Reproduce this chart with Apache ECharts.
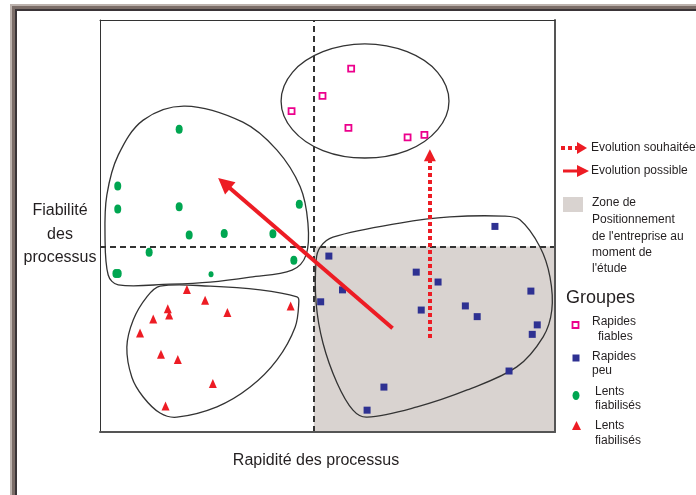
<!DOCTYPE html>
<html lang="fr">
  <head>
    <meta charset="UTF-8" />
    <script src="https://cdn.jsdelivr.net/npm/echarts@6/dist/echarts.min.js"></script>
    <style>
      body { margin: 0; background: #fff; }
    </style>
    <title>Groupes</title>
  </head>
  <body>
    <div id="main" style="width: 696px; height: 495px;"></div>

    <script>
      // axes 0..100, no ticks shown
      const seuilRapidite = 47;
      const seuilFiabilite = 45;

      const rapidesFiables = [
        [55.2, 88.2], [48.9, 81.6], [42.1, 77.9], [54.6, 73.8], [67.6, 71.5], [71.3, 72.1],
      ];
      const rapidesPeu = [
        [86.8, 49.9], [50.3, 42.7], [69.5, 38.8], [74.3, 36.4], [53.3, 34.5],
        [48.5, 31.6], [94.7, 34.2], [70.6, 29.6], [80.3, 30.6], [82.9, 28.0],
        [96.1, 26.0], [95.0, 23.7], [89.9, 14.8], [62.4, 10.9], [58.7, 5.3],
      ];
      const lentsVert = [
        [17.4, 73.5], [3.9, 59.7], [3.9, 54.1], [17.4, 54.7], [19.6, 47.8],
        [27.3, 48.2], [38.0, 48.1], [43.8, 55.3], [10.8, 43.6], [42.6, 41.7],
        [3.5, 38.5], [4.0, 38.5], [24.4, 38.3],
      ];
      const lentsRouge = [
        [19.1, 34.6], [23.1, 32.0], [14.9, 29.9], [15.2, 28.4], [11.7, 27.4],
        [28.0, 29.0], [41.9, 30.6], [8.8, 24.0], [13.4, 18.9], [17.1, 17.6],
        [24.8, 11.8], [14.4, 6.3],
      ];

      const evolutionPossible = [[64.3, 25.2], [27.3, 60.4]];
      const evolutionSouhaitee = [[72.5, 22.8], [72.5, 67.2]];

      // hand drawn group outlines
      const contourFiables = [
        [76.7, 80.3], [74.2, 73.4], [67.5, 68.3], [58.2, 66.5], [49.0, 68.3], [42.3, 73.4],
        [39.8, 80.3], [42.3, 87.3], [49.0, 92.3], [58.2, 94.2], [67.5, 92.3], [74.2, 87.3],
      ];
      const contourVert = [
        [18.7, 79.1], [31.4, 75.2], [38.9, 68.4], [44.0, 59.5], [45.7, 50.7], [45.3, 43.0],
        [42.2, 39.3], [33.0, 37.6], [24.2, 36.4], [15.4, 35.9], [4.0, 35.7], [1.8, 38.1],
        [1.1, 47.8], [1.5, 57.5], [4.0, 67.2], [9.5, 75.7],
      ];
      const contourRouge = [
        [13.2, 35.4], [24.2, 35.4], [35.2, 34.5], [43.3, 32.8], [43.7, 31.6], [42.9, 25.5],
        [38.9, 17.5], [33.0, 10.9], [25.7, 6.1], [16.9, 3.6], [13.2, 4.6], [9.5, 8.5],
        [7.0, 13.3], [5.9, 20.6], [7.3, 27.2], [10.3, 32.8],
      ];
      const contourPeu = [
        [48.4, 44.9], [51.2, 47.3], [65.9, 50.7], [76.9, 52.2], [88.6, 52.4], [92.3, 51.5],
        [96.7, 44.9], [98.9, 37.6], [99.3, 29.6], [97.4, 23.1], [91.6, 15.8], [80.7, 10.2],
        [69.7, 6.1], [58.7, 3.6], [55.6, 5.3], [52.1, 11.9], [49.0, 21.6], [47.5, 31.3],
        [47.5, 41.7],
      ];
      const contours = [contourFiables, contourVert, contourRouge, contourPeu];

      const font = "'Liberation Sans', Arial, sans-serif";
      const ink = "#231f20";
      const rouge = "#ed1c24";

      const myChart = echarts.init(document.getElementById("main"));

      const hiddenAxis = (pos, width, color) => ({
        type: "value",
        min: 0,
        max: 100,
        position: pos,
        z: 6,
        axisLine: { show: true, onZero: false, lineStyle: { color: color, width: width } },
        axisTick: { show: false },
        axisLabel: { show: false },
        splitLine: { show: false },
      });

      function txt(x, y, text, size, align) {
        return {
          type: "text",
          x: x,
          y: y,
          z: 10,
          style: {
            text: text,
            font: size + "px " + font,
            fill: ink,
            align: align || "left",
            verticalAlign: "middle",
          },
        };
      }

      const graphics = [
        // window frame
        { type: "rect", shape: { x: 10, y: 4, width: 686, height: 7 }, style: { fill: "#bcb2ad" } },
        { type: "rect", shape: { x: 12, y: 6, width: 684, height: 5 }, style: { fill: "#7b6d68" } },
        { type: "rect", shape: { x: 15, y: 9, width: 681, height: 2 }, style: { fill: "#3a3437" } },
        { type: "rect", shape: { x: 10, y: 4, width: 7, height: 491 }, style: { fill: "#bcb2ad" } },
        { type: "rect", shape: { x: 12, y: 6, width: 5, height: 489 }, style: { fill: "#7b6d68" } },
        { type: "rect", shape: { x: 15, y: 9, width: 2, height: 486 }, style: { fill: "#3a3437" } },

        // axis titles
        txt(60, 211, "Fiabilité", 16, "center"),
        txt(60, 235, "des", 16, "center"),
        txt(60, 258, "processus", 16, "center"),
        txt(316, 461, "Rapidité des processus", 16, "center"),

        // legend: arrows
        {
          type: "line",
          shape: { x1: 561, y1: 148, x2: 579, y2: 148 },
          style: { stroke: rouge, lineWidth: 4, lineDash: [4, 3] },
        },
        { type: "polygon", shape: { points: [[577, 142], [587, 148], [577, 154]] }, style: { fill: rouge } },
        txt(591, 148, "Evolution souhaitée", 12),
        {
          type: "line",
          shape: { x1: 563, y1: 171, x2: 579, y2: 171 },
          style: { stroke: rouge, lineWidth: 3 },
        },
        { type: "polygon", shape: { points: [[577, 165], [589, 171], [577, 177]] }, style: { fill: rouge } },
        txt(591, 171, "Evolution possible", 12),

        // legend: zone
        { type: "rect", shape: { x: 563, y: 197, width: 20, height: 15 }, style: { fill: "#d9d3d0" } },
        txt(592, 203, "Zone de", 12),
        txt(592, 220, "Positionnement", 12),
        txt(592, 237, "de l'entreprise au", 12),
        txt(592, 253, "moment de", 12),
        txt(592, 269, "l'étude", 12),

        // legend: groups
        txt(566, 298, "Groupes", 18),
        {
          type: "rect",
          shape: { x: 572.5, y: 322, width: 6, height: 6 },
          style: { fill: "#fff", stroke: "#ec008c", lineWidth: 1.8 },
        },
        txt(592, 322, "Rapides", 12),
        txt(598, 337, "fiables", 12),
        { type: "rect", shape: { x: 572.5, y: 354.5, width: 7, height: 7 }, style: { fill: "#2e3192" } },
        txt(592, 357, "Rapides", 12),
        txt(592, 371, "peu", 12),
        { type: "ellipse", shape: { cx: 576, cy: 395.5, rx: 3.5, ry: 4.5 }, style: { fill: "#00a651" } },
        txt(595, 392, "Lents", 12),
        txt(595, 406, "fiabilisés", 12),
        { type: "polygon", shape: { points: [[576.5, 421], [581, 430], [572, 430]] }, style: { fill: rouge } },
        txt(595, 426, "Lents", 12),
        txt(595, 441, "fiabilisés", 12),
      ];

      myChart.setOption({
        animation: false,
        backgroundColor: "#fff",
        grid: { left: 100, top: 20, width: 455, height: 412, show: false },
        xAxis: [hiddenAxis("bottom", 2, "#555"), hiddenAxis("top", 1, "#333")],
        yAxis: [hiddenAxis("left", 1, "#333"), hiddenAxis("right", 2, "#555")],
        graphic: graphics,
        series: [
          {
            name: "zone",
            type: "scatter",
            data: [],
            z: 1,
            silent: true,
            markArea: {
              silent: true,
              itemStyle: { color: "#d9d3d0" },
              data: [[{ xAxis: seuilRapidite, yAxis: 0 }, { xAxis: 100, yAxis: seuilFiabilite }]],
            },
          },
          {
            name: "contours",
            type: "custom",
            z: 2,
            silent: true,
            data: contours.map((c, i) => [i, 0]),
            renderItem: (params, api) => {
              const pts = contours[params.dataIndex].map((p) => api.coord(p));
              return {
                type: "polygon",
                shape: { points: pts, smooth: 0.35 },
                style: { fill: "none", stroke: "#333", lineWidth: 1.3 },
              };
            },
          },
          {
            name: "seuils",
            type: "scatter",
            data: [],
            z: 3,
            markLine: {
              silent: true,
              symbol: "none",
              label: { show: false },
              lineStyle: { color: "#333", width: 2, type: [6, 4] },
              data: [{ xAxis: seuilRapidite }, { yAxis: seuilFiabilite }],
            },
          },
          {
            name: "Rapides fiables",
            type: "scatter",
            z: 4,
            symbol: "rect",
            symbolSize: 6,
            itemStyle: { color: "#fff", borderColor: "#ec008c", borderWidth: 1.8, opacity: 1 },
            data: rapidesFiables,
          },
          {
            name: "Rapides peu",
            type: "scatter",
            z: 4,
            symbol: "rect",
            symbolSize: 7,
            itemStyle: { color: "#2e3192", opacity: 1 },
            data: rapidesPeu,
          },
          {
            name: "Lents fiabilisés",
            type: "scatter",
            z: 4,
            symbol: "circle",
            symbolSize: (v, p) => (p.dataIndex === 12 ? [5, 6] : [7, 9]),
            itemStyle: { color: "#00a651", opacity: 1 },
            data: lentsVert,
          },
          {
            name: "Lents fiabilisés ",
            type: "scatter",
            z: 4,
            symbol: "triangle",
            symbolSize: [8, 9],
            itemStyle: { color: rouge, opacity: 1 },
            data: lentsRouge,
          },
          {
            name: "Evolution possible",
            type: "lines",
            coordinateSystem: "cartesian2d",
            z: 5,
            symbol: ["none", "triangle"],
            symbolSize: 16,
            lineStyle: { color: rouge, width: 4, opacity: 1 },
            data: [{ coords: evolutionPossible }],
          },
          {
            name: "Evolution souhaitée",
            type: "lines",
            coordinateSystem: "cartesian2d",
            z: 5,
            symbol: ["none", "triangle"],
            symbolSize: 12,
            lineStyle: { color: rouge, width: 4, type: [4, 3], opacity: 1 },
            data: [{ coords: evolutionSouhaitee }],
          },
        ],
      });
    </script>
  </body>
</html>
